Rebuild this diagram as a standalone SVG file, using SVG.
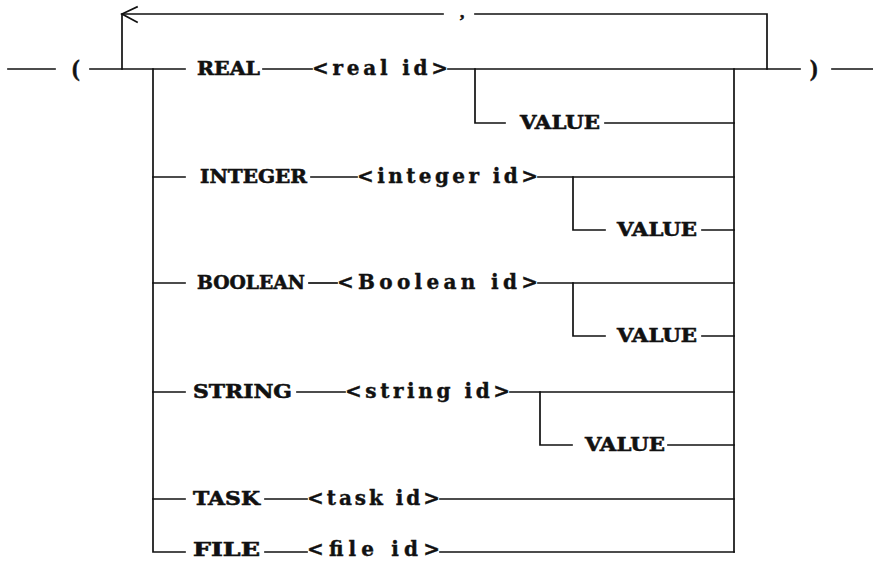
<svg xmlns="http://www.w3.org/2000/svg" width="873" height="561" viewBox="0 0 873 561">
<style>
.ln{fill:none;stroke:#111;stroke-width:1.7;stroke-linecap:square}
.kw{font-family:"DejaVu Serif","Liberation Serif",serif;font-weight:bold;font-size:19px;fill:#111;stroke:#111;stroke-width:0.6}
.id{font-family:"DejaVu Serif","Liberation Serif",serif;font-weight:bold;font-size:20px;fill:#111;stroke:#111;stroke-width:0.4}
.pn{font-family:"Liberation Serif",serif;font-weight:bold;font-size:23px;fill:#111;stroke:#111;stroke-width:0.6}
.cm{font-family:"Liberation Serif",serif;font-weight:bold;font-size:17px;fill:#111;stroke:#111;stroke-width:0.6}
</style>
<rect width="873" height="561" fill="#fff"/>
<g id="connectors" class="ln">
  <path d="M8 69H55"/>
  <path d="M90 69H185"/>
  <path d="M448 69H800"/>
  <path d="M832 69H873"/>
  <path d="M767 69V14H475"/>
  <path d="M443 14H122V69"/>
  <path d="M137 7L122 14L137 22"/>
  <path d="M153 69V552H185"/>
  <path d="M734 69V552"/>
  <path d="M263 69H312"/>
  <path d="M475 69V123H505"/>
  <path d="M605 123H734"/>
  <path d="M153 177H185"/>
  <path d="M311 177H357"/>
  <path d="M538 177H734"/>
  <path d="M573 177V230H605"/>
  <path d="M702 230H734"/>
  <path d="M153 283H185"/>
  <path d="M309 283H337"/>
  <path d="M538 283H734"/>
  <path d="M573 283V336H605"/>
  <path d="M702 336H734"/>
  <path d="M153 392H185"/>
  <path d="M297 392H345"/>
  <path d="M510 392H734"/>
  <path d="M540 392V445H572"/>
  <path d="M668 445H734"/>
  <path d="M153 499H185"/>
  <path d="M265 499H307"/>
  <path d="M440 499H734"/>
  <path d="M265 552H307"/>
  <path d="M440 552H734"/>
</g>
<g id="lparen"><text class="pn" x="72" y="76">(</text></g>
<g id="rparen"><text class="pn" x="810" y="76">)</text></g>
<g id="comma"><text class="cm" x="460" y="18">,</text></g>
<g id="real"><text class="kw" x="197" y="75" textLength="63" lengthAdjust="spacingAndGlyphs">REAL</text></g>
<g id="real-id"><text class="id" x="312" y="75" textLength="136" lengthAdjust="spacing">&lt;real id&gt;</text></g>
<g id="real-value"><text class="kw" x="520" y="129" textLength="80" lengthAdjust="spacingAndGlyphs">VALUE</text></g>
<g id="integer"><text class="kw" x="200" y="183" textLength="107" lengthAdjust="spacingAndGlyphs">INTEGER</text></g>
<g id="integer-id"><text class="id" x="357" y="183" textLength="181" lengthAdjust="spacing">&lt;integer id&gt;</text></g>
<g id="integer-value"><text class="kw" x="617" y="236" textLength="80" lengthAdjust="spacingAndGlyphs">VALUE</text></g>
<g id="boolean"><text class="kw" x="197" y="289" textLength="108" lengthAdjust="spacingAndGlyphs">BOOLEAN</text></g>
<g id="boolean-id"><text class="id" x="337" y="289" textLength="201" lengthAdjust="spacing">&lt;Boolean id&gt;</text></g>
<g id="boolean-value"><text class="kw" x="617" y="342" textLength="80" lengthAdjust="spacingAndGlyphs">VALUE</text></g>
<g id="string"><text class="kw" x="193" y="398" textLength="99" lengthAdjust="spacingAndGlyphs">STRING</text></g>
<g id="string-id"><text class="id" x="345" y="398" textLength="165" lengthAdjust="spacing">&lt;string id&gt;</text></g>
<g id="string-value"><text class="kw" x="585" y="451" textLength="80" lengthAdjust="spacingAndGlyphs">VALUE</text></g>
<g id="task"><text class="kw" x="193" y="505" textLength="67" lengthAdjust="spacingAndGlyphs">TASK</text></g>
<g id="task-id"><text class="id" x="307" y="505" textLength="133" lengthAdjust="spacing">&lt;task id&gt;</text></g>
<g id="file"><text class="kw" x="193" y="556" textLength="67" lengthAdjust="spacingAndGlyphs">FILE</text></g>
<g id="file-id"><text class="id" x="307" y="556" textLength="133" lengthAdjust="spacing">&lt;file id&gt;</text></g>
</svg>
